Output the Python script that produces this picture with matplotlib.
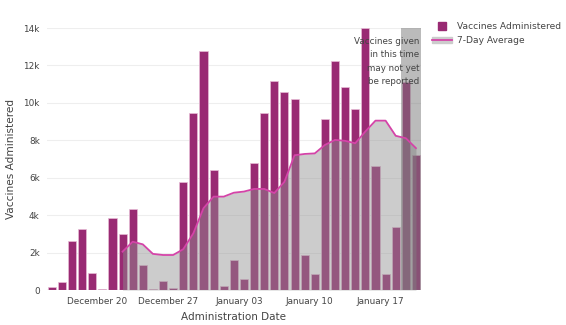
import matplotlib
matplotlib.use("Agg")
import matplotlib.pyplot as plt
from matplotlib.lines import Line2D
from matplotlib.patches import Patch
import numpy as np

# daily doses, Dec 15 .. Jan 20
vaccines = [150, 450, 2640, 3250, 930, 40, 3870, 3010, 4310, 1350,
            50, 480, 90, 5760, 9480, 12780, 6400, 200, 1600, 590,
            6770, 9470, 11160, 10570, 10210, 1850, 860, 9160, 12250, 10860,
            9660, 13990, 6600, 840, 3390, 11090, 7220]

# 7-day average (starts at day 8)
avg_start = 7
avg7 = [2050, 2580, 2440, 1930, 1870, 1870, 2180, 3030, 4370, 4990,
        4990, 5200, 5260, 5400, 5400, 5180, 5780, 7200, 7270, 7300,
        7750, 8020, 7970, 7840, 8470, 9050, 9050, 8240, 8110, 7580]

tick_labels = ['December 20', 'December 27', 'January 03', 'January 10', 'January 17']
tick_days = [4.5, 11.5, 18.5, 25.5, 32.5]
unreported = (34.5, 36.5)

bar_color = '#992a73'
line_color = '#d444a8'
txt = '#444444'

plt.rcParams['font.family'] = 'DejaVu Sans'

fig = plt.figure(figsize=(5.66, 3.25), dpi=100)
ax = fig.add_axes([46.7 / 566, 1 - 290 / 325, (421 - 46.7) / 566, (290 - 28) / 325])

x = np.arange(len(vaccines))
ax.bar(x, vaccines, width=0.8, color=bar_color, edgecolor='#e7bcd6', linewidth=0.5, zorder=2)

xa = np.arange(avg_start, avg_start + len(avg7))
ax.fill_between(xa, avg7, 0, color=(0.56, 0.56, 0.56, 0.45), linewidth=0, zorder=3)
ax.plot(xa, avg7, color=line_color, linewidth=1.3, zorder=5)

ax.axvspan(unreported[0], unreported[1], color=(0.47, 0.47, 0.47, 0.5), linewidth=0, zorder=4)

ax.text(0.995, 0.965, 'Vaccines given\nin this time\nmay not yet\nbe reported',
        transform=ax.transAxes, ha='right', va='top', fontsize=6.3,
        color=txt, linespacing=1.6, zorder=6)

ax.set_xlim(-0.5, 36.5)
ax.set_ylim(0, 14000)
ax.set_xticks(tick_days)
ax.set_xticklabels(tick_labels)
yt = np.arange(0, 14001, 2000)
ax.set_yticks(yt)
ax.set_yticklabels(['0'] + ['%dk' % (v // 1000) for v in yt[1:]])
ax.tick_params(axis='both', length=0, labelsize=6.4, colors=txt, pad=5)
ax.grid(axis='y', color='#eeeeee', linewidth=0.8, zorder=0)
ax.set_axisbelow(True)
for s in ax.spines.values():
    s.set_visible(False)
ax.axhline(0, color='#999999', linewidth=0.8, zorder=6)

ax.set_xlabel('Administration Date', fontsize=7.5, color=txt, labelpad=4)
ax.set_ylabel('Vaccines Administered', fontsize=7.6, color=txt, labelpad=5)

h1 = Line2D([], [], marker='s', linestyle='none', markersize=6, color=bar_color)
h2 = (Patch(color='#cccccc'), Line2D([], [], color=line_color, linewidth=1.3))
leg = fig.legend([h1, h2], ['Vaccines Administered', '7-Day Average'],
                 loc='upper left', bbox_to_anchor=(430 / 566, 1 - 20 / 325),
                 frameon=False, fontsize=6.6, handlelength=2.2, handleheight=0.5,
                 labelspacing=0.6, handletextpad=0.5, labelcolor=txt,
                 borderaxespad=0, borderpad=0.2)

fig.savefig('out.png', dpi=100)
